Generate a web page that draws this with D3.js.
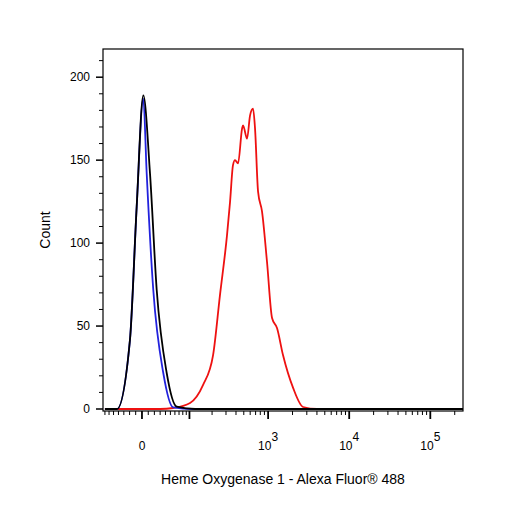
<!DOCTYPE html>
<html><head><meta charset="utf-8">
<script src="https://cdn.jsdelivr.net/npm/d3@7"></script>
<style>body{margin:0;background:#fff}text{font-family:"Liberation Sans",Arial,sans-serif}</style>
</head><body><svg id="c" width="506" height="506"></svg>
<script>
const blackX=[-70,-43,-19.4,-8.4,2.1,12.8,24,42.4,64.3,120,253000];
const blackY=[0,0,41.6,121.9,189,142,71.7,21.7,1.4,0,0];
const blueX=[-70,-43,-19.4,-8.4,2.1,7.5,18.2,35.8,56,110,253000];
const blueY=[0,0,41.6,121.9,187,142,71.7,21.7,1,0,0];
const redX=[-70,30,56,102,153,206,252,309,337,367,389,424,476,489,549,598,651,689,751,841,969,1118,1287,1526,2033,2700,4020,253000];
const redY=[0,0,0.6,3.6,14.5,32.5,68.7,104.8,124.7,147,150,148,169,171,163,177,181,169,131,119,88.6,54.8,48.8,32.5,12.7,1.2,0,0];
const yTicks=[0,50,100,150,200];
const xLabels=[{v:0,b:"0",e:""},{v:1000,b:"10",e:"3"},{v:10000,b:"10",e:"4"},{v:100000,b:"10",e:"5"}];
const W=55.7;
const tr=v=>Math.asinh(v/W);
const L=103,R=463,T=49,B=411;
const xs=d3.scaleLinear().domain([tr(-75),tr(253000)]).range([L,R]);
const x=v=>xs(tr(v));
const y=d3.scaleLinear().domain([0,217]).range([409,T]);
const svg=d3.select("#c");
svg.append("defs").append("clipPath").attr("id","cp").append("rect").attr("x",L).attr("y",T).attr("width",R-L).attr("height",B-T);
const g=svg.append("g").attr("clip-path","url(#cp)");
function draw(xv,yv,col,curve){
  const pts=xv.map((v,i)=>[v,yv[i]]);
  g.append("path").attr("d",d3.line().x(d=>x(d[0])).y(d=>y(d[1])).curve(curve)(pts))
   .attr("fill","none").attr("stroke",col).attr("stroke-width",1.8).attr("stroke-linejoin","round");
}
draw(redX,redY,"#ee1111",d3.curveMonotoneX);
draw(blueX,blueY,"#2222dd",d3.curveMonotoneX);
draw(blackX,blackY,"#000",d3.curveMonotoneX);
svg.append("rect").attr("x",L).attr("y",T).attr("width",R-L).attr("height",B-T).attr("fill","none").attr("stroke","#000").attr("stroke-width",1.2);
for(let v=0;v<=210;v+=10){
  const maj=v%50===0;
  svg.append("line").attr("x1",L).attr("x2",L-(maj?7:4)).attr("y1",y(v)).attr("y2",y(v)).attr("stroke","#000").attr("stroke-width",maj?1.5:1);
}
yTicks.forEach(v=>svg.append("text").attr("x",L-13).attr("y",y(v)+4).attr("text-anchor","end").attr("font-size",12).text(v));
const minors=[];
for(let k=1;k<=7;k++)minors.push(-10*k);
for(let k=1;k<=9;k++)minors.push(10*k);
[100,1000,10000].forEach(d=>{for(let k=2;k<=9;k++)minors.push(d*k);});
minors.push(200000);
minors.forEach(v=>svg.append("line").attr("x1",x(v)).attr("x2",x(v)).attr("y1",B).attr("y2",B+4).attr("stroke","#000"));
[0,100,1000,10000,100000].forEach(v=>svg.append("line").attr("x1",x(v)).attr("x2",x(v)).attr("y1",B).attr("y2",B+8).attr("stroke","#000").attr("stroke-width",1.8));
xLabels.forEach(d=>{
  const t=svg.append("text").attr("x",x(d.v)).attr("y",450).attr("text-anchor","middle").attr("font-size",12);
  t.append("tspan").text(d.b);
  if(d.e)t.append("tspan").attr("dy",-9).attr("font-size",12).text(d.e);
});
svg.append("text").attr("x",283).attr("y",484).attr("text-anchor","middle").attr("font-size",14).text("Heme Oxygenase 1 - Alexa Fluor® 488");
svg.append("text").attr("transform","translate(50,230) rotate(-90)").attr("text-anchor","middle").attr("font-size",14).text("Count");
</script></body></html>
